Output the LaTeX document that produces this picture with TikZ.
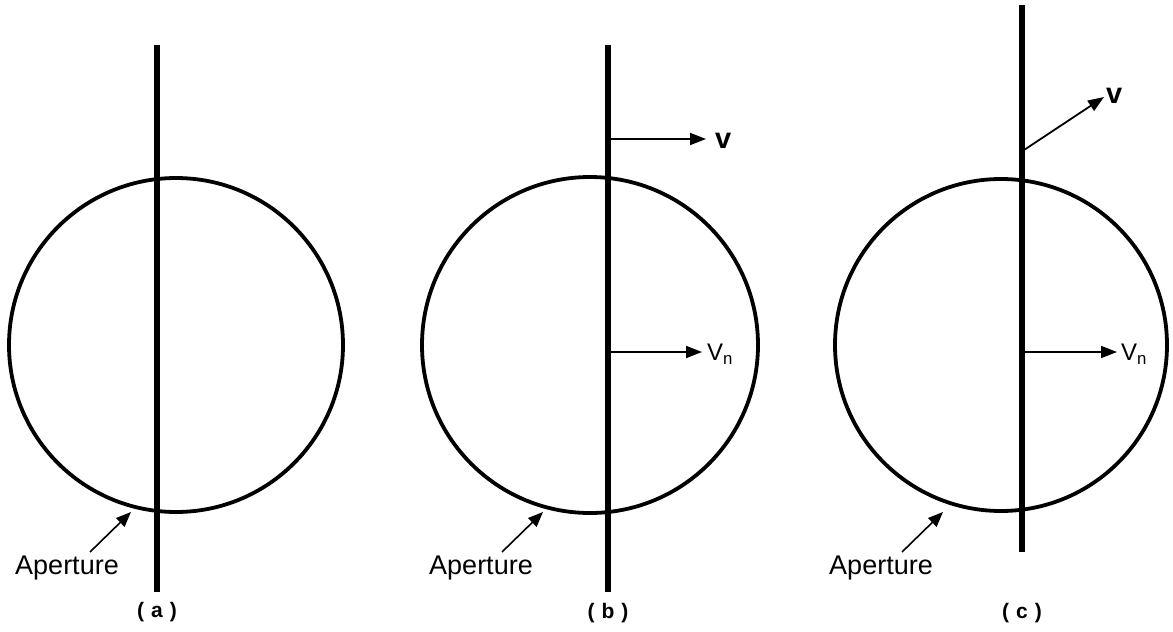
\documentclass[tikz,border=0pt]{standalone}
\usepackage{fontspec}
\setmainfont{Liberation Sans}
\usetikzlibrary{arrows.meta}
\begin{document}
\begin{tikzpicture}[x=1pt,y=-1pt,
  ring/.style={draw=black,line width=3.8pt,circle,inner sep=0pt},
  rod/.style={line width=6pt,black},
  vec/.style={line width=1.8pt,-{Triangle[length=16pt,width=12pt]}},
  ptr/.style={line width=1.6pt,-{Triangle[length=15pt,width=12pt]}},
  lab/.style={inner sep=0pt,font=\fontsize{27}{30}\selectfont},
  paneltag/.style={inner sep=0pt,font=\fontsize{21}{24}\selectfont\bfseries},
  vlab/.style={inner sep=0pt,anchor=west,font=\fontsize{29}{32}\selectfont\bfseries},
  vnlab/.style={inner sep=0pt,anchor=west,font=\fontsize{24}{28}\selectfont}]
\useasboundingbox (0,0) rectangle (1173,632);
% ---------- (a)
\node[ring,minimum size=334pt] (ca) at (176,345) {};
\coordinate (at) at (157,45);
\coordinate (ab) at (157,592);
\draw[rod] (at) -- (ab);
\node[lab] (apa) at (67,568) {Aperture};
\coordinate (apa0) at (90,552);
\coordinate (apa1) at (131,512);
\draw[ptr] (apa0) -- (apa1);
\node[paneltag] (la) at (157,612) {(\,\,a\,\,)};
% ---------- (b)
\node[ring,minimum size=336pt] (cb) at (590,345) {};
\coordinate (bt) at (608,45);
\coordinate (bb) at (608,592);
\draw[rod] (bt) -- (bb);
\coordinate (bv0) at (608,139);
\coordinate (bv1) at (706,139);
\draw[vec] (bv0) -- (bv1);
\node[vlab] (bv) at (715,141) {v};
\coordinate (bn0) at (608,352);
\coordinate (bn1) at (702,352);
\draw[vec] (bn0) -- (bn1);
\node[vnlab] (bn) at (707,354) {V$_{\mathrm{n}}$};
\node[lab] (apb) at (481,568) {Aperture};
\coordinate (apb0) at (502,552);
\coordinate (apb1) at (543,512);
\draw[ptr] (apb0) -- (apb1);
\node[paneltag] (lb) at (608,613) {(\,\,b\,\,)};
% ---------- (c)
\node[ring,minimum size=332pt] (cc) at (1001,345) {};
\coordinate (ct) at (1022,5);
\coordinate (cbot) at (1022,552);
\draw[rod] (ct) -- (cbot);
\coordinate (cv0) at (1024,150);
\coordinate (cv1) at (1104,97);
\draw[vec] (cv0) -- (cv1);
\node[vlab] (cv) at (1106,96) {v};
\coordinate (cn0) at (1022,352);
\coordinate (cn1) at (1117,352);
\draw[vec] (cn0) -- (cn1);
\node[vnlab] (cn) at (1121,354) {V$_{\mathrm{n}}$};
\node[lab] (apc) at (881,568) {Aperture};
\coordinate (apc0) at (902,552);
\coordinate (apc1) at (943,512);
\draw[ptr] (apc0) -- (apc1);
\node[paneltag] (lc) at (1022,613) {(\,\,c\,\,)};
\end{tikzpicture}
\end{document}
